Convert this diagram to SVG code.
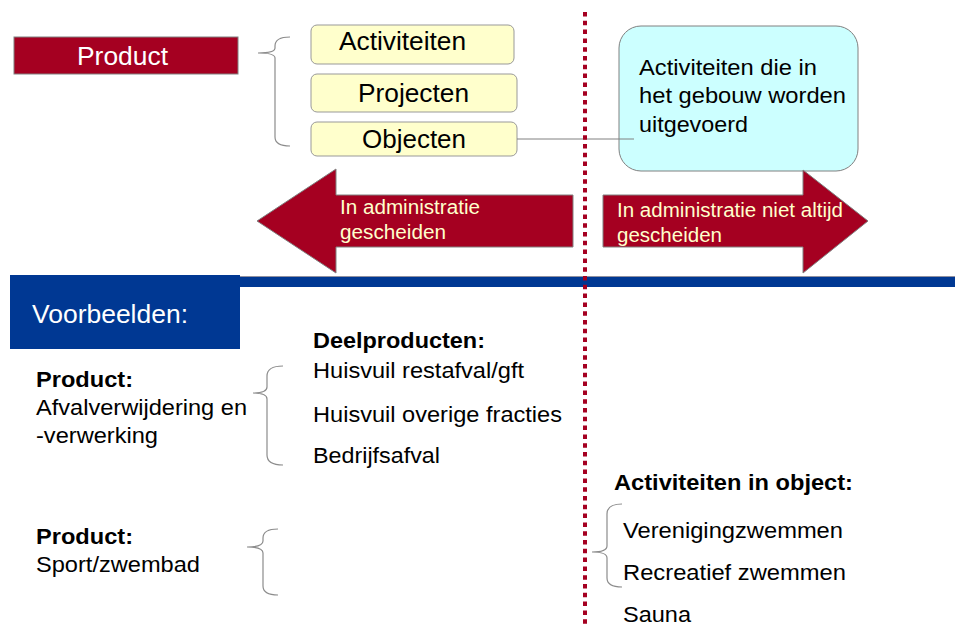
<svg xmlns="http://www.w3.org/2000/svg" width="955" height="628" viewBox="0 0 955 628">
<style>
  text { font-family: "Liberation Sans", Arial, sans-serif; }
  .ybox { fill: #FFFFCC; stroke: #999999; stroke-width: 1; }
  .big { font-size: 25px; fill: #000; }
  .arr { fill: #A50021; stroke: #808080; stroke-width: 1; }
  .cream { font-size: 20px; fill: #FFFFCC; }
  .brace { fill: none; stroke: #8C8C8C; stroke-width: 1.2; }
  .t { font-size: 21.5px; fill: #000; }
  .b { font-size: 21.5px; font-weight: bold; fill: #000; }
  .blue { fill: #003893; }
</style>
<rect width="955" height="628" fill="#ffffff"/>

<g id="product-top">
  <rect x="14" y="37" width="224" height="37" fill="#A50021" stroke="#808080" stroke-width="1"/>
  <text x="77" y="65" font-size="25" fill="#ffffff" textLength="91" lengthAdjust="spacingAndGlyphs">Product</text>
</g>

<g id="brace-top">
  <path class="brace" d="M290,37 Q275,37 275,46 L275,48 Q275,53 258,53 Q275,53 275,58 L275,137 Q275,146 290,146"/>
</g>

<g id="activiteiten">
  <rect class="ybox" x="311" y="25" width="203" height="39" rx="6"/>
  <text class="big" x="339" y="50" textLength="127" lengthAdjust="spacingAndGlyphs">Activiteiten</text>
</g>
<g id="projecten">
  <rect class="ybox" x="311" y="74" width="206" height="38" rx="6"/>
  <text class="big" x="358" y="102" textLength="111" lengthAdjust="spacingAndGlyphs">Projecten</text>
</g>
<g id="objecten">
  <rect class="ybox" x="311" y="122" width="206" height="34" rx="6"/>
  <text class="big" x="362" y="148" textLength="104" lengthAdjust="spacingAndGlyphs">Objecten</text>
</g>

<g id="callout">
  <rect x="619" y="26" width="239" height="145" rx="22" fill="#CCFFFF" stroke="#808080" stroke-width="1"/>
  <text x="639" y="75" font-size="22" textLength="178" lengthAdjust="spacingAndGlyphs">Activiteiten die in</text>
  <text x="639" y="103" font-size="22" textLength="207" lengthAdjust="spacingAndGlyphs">het gebouw worden</text>
  <text x="639" y="132" font-size="22" textLength="109" lengthAdjust="spacingAndGlyphs">uitgevoerd</text>
</g>

<g id="arrow-left">
  <polygon class="arr" points="257,221 336,169 336,195 573,195 573,247 336,247 336,273"/>
  <text class="cream" x="340" y="214" textLength="140" lengthAdjust="spacingAndGlyphs">In administratie</text>
  <text class="cream" x="340" y="239" textLength="106" lengthAdjust="spacingAndGlyphs">gescheiden</text>
</g>

<g id="arrow-right">
  <polygon class="arr" points="603,195 803,195 803,170 868,221 803,273 803,247 603,247"/>
  <text class="cream" x="617" y="217" textLength="226" lengthAdjust="spacingAndGlyphs">In administratie niet altijd</text>
  <text class="cream" x="617" y="242" textLength="105" lengthAdjust="spacingAndGlyphs">gescheiden</text>
</g>

<g id="divider">
  <rect class="blue" x="240" y="276" width="715" height="11"/>
  <line x1="240" y1="276.5" x2="955" y2="276.5" stroke="#9090A0" stroke-width="1"/>
</g>

<g id="voorbeelden">
  <rect class="blue" x="10" y="275" width="230" height="74"/>
  <text x="32" y="323" font-size="26" fill="#ffffff" textLength="156" lengthAdjust="spacingAndGlyphs">Voorbeelden:</text>
</g>

<g id="connectors">
  <line x1="517" y1="139" x2="634" y2="139" stroke="#808080" stroke-width="1"/>
  <line x1="585" y1="12" x2="585" y2="628" stroke="#A50021" stroke-width="4" stroke-dasharray="4.5 4.3"/>
</g>

<g id="product-afval">
  <text class="b" x="36" y="387" textLength="97" lengthAdjust="spacingAndGlyphs">Product:</text>
  <text class="t" x="36" y="415" textLength="211" lengthAdjust="spacingAndGlyphs">Afvalverwijdering en</text>
  <text class="t" x="36" y="443" textLength="122" lengthAdjust="spacingAndGlyphs">-verwerking</text>
</g>

<g id="brace-afval">
  <path class="brace" d="M283,366 Q267,366 267,376 L267,387 Q267,393 253,393 Q267,393 267,399 L267,455 Q267,465 283,465"/>
</g>

<g id="deelproducten">
  <text class="b" x="313" y="348" textLength="172" lengthAdjust="spacingAndGlyphs">Deelproducten:</text>
  <text class="t" x="313" y="378" textLength="211" lengthAdjust="spacingAndGlyphs">Huisvuil restafval/gft</text>
  <text class="t" x="313" y="422" textLength="249" lengthAdjust="spacingAndGlyphs">Huisvuil overige fracties</text>
  <text class="t" x="313" y="463" textLength="127" lengthAdjust="spacingAndGlyphs">Bedrijfsafval</text>
</g>

<g id="product-sport">
  <text class="b" x="36" y="544" textLength="97" lengthAdjust="spacingAndGlyphs">Product:</text>
  <text class="t" x="36" y="572" textLength="164" lengthAdjust="spacingAndGlyphs">Sport/zwembad</text>
</g>

<g id="brace-sport">
  <path class="brace" d="M278,529 Q263,529 263,538 L263,541 Q263,547 247,547 Q263,547 263,553 L263,586 Q263,595 278,595"/>
</g>

<g id="activiteiten-object">
  <text class="b" x="614" y="490" textLength="239" lengthAdjust="spacingAndGlyphs">Activiteiten in object:</text>
  <path class="brace" d="M622,504 Q607,504 607,514 L607,546 Q607,552 592,552 Q607,552 607,558 L607,578 Q607,587 622,587"/>
  <text class="t" x="623" y="538" textLength="220" lengthAdjust="spacingAndGlyphs">Verenigingzwemmen</text>
  <text class="t" x="623" y="580" textLength="223" lengthAdjust="spacingAndGlyphs">Recreatief zwemmen</text>
  <text class="t" x="623" y="622" textLength="68" lengthAdjust="spacingAndGlyphs">Sauna</text>
</g>
</svg>
